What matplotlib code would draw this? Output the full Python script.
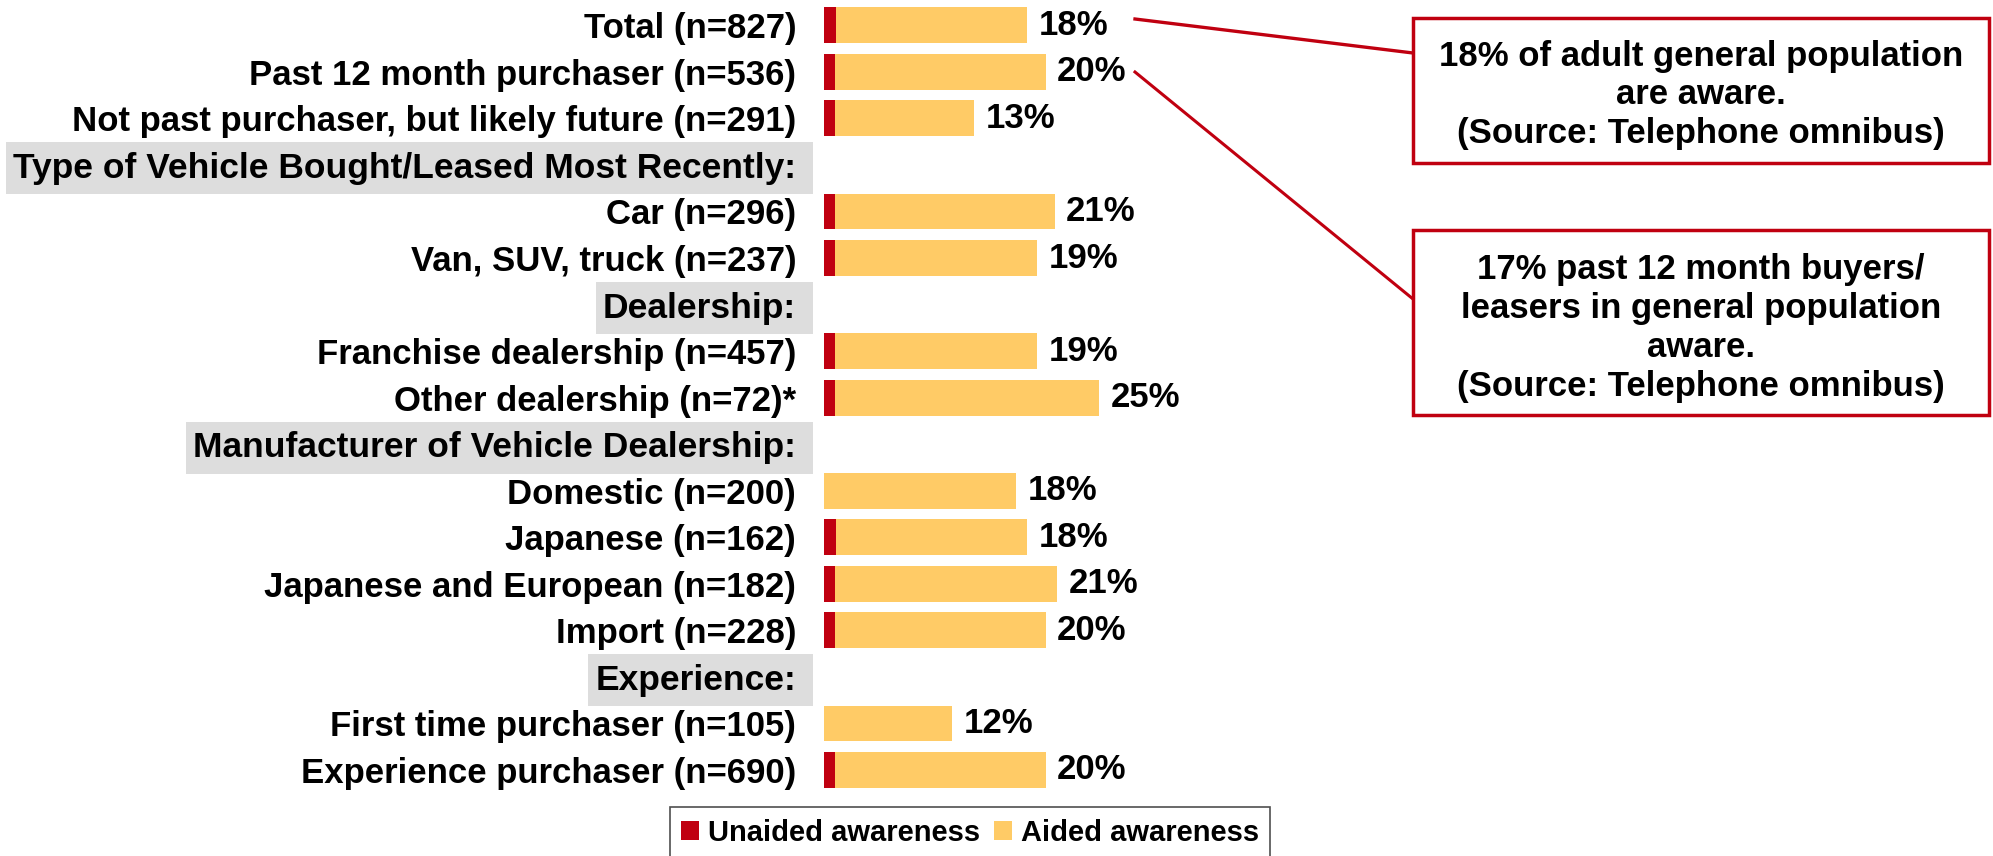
import matplotlib
matplotlib.use('Agg')
import matplotlib.pyplot as plt
from matplotlib.patches import Rectangle, Patch
from matplotlib.lines import Line2D
import numpy as np

plt.rcParams['font.family'] = ['Liberation Sans', 'DejaVu Sans']
plt.rcParams['font.weight'] = 'bold'

# rows top -> bottom; header rows have no values
categories = ['Total (n=827)', 'Past 12 month purchaser (n=536)',
              'Not past purchaser, but likely future (n=291)',
              'Type of Vehicle Bought/Leased Most Recently:',
              'Car (n=296)', 'Van, SUV, truck (n=237)',
              'Dealership:',
              'Franchise dealership (n=457)', 'Other dealership (n=72)*',
              'Manufacturer of Vehicle Dealership:',
              'Domestic (n=200)', 'Japanese (n=162)',
              'Japanese and European (n=182)', 'Import (n=228)',
              'Experience:',
              'First time purchaser (n=105)', 'Experience purchaser (n=690)']
is_header = [False, False, False, True, False, False, True, False, False,
             True, False, False, False, False, True, False, False]
unaided = [1.1, 1.0, 1.0, np.nan, 1.0, 1.0, np.nan, 1.0, 1.0, np.nan,
           0.0, 1.1, 1.0, 1.0, np.nan, 0.0, 1.0]
aided = [17.3, 19.1, 12.6, np.nan, 19.9, 18.3, np.nan, 18.3, 23.9, np.nan,
         17.4, 17.3, 20.1, 19.1, np.nan, 11.6, 19.1]
value_labels = ['18%', '20%', '13%', '', '21%', '19%', '', '19%', '25%', '',
                '18%', '18%', '21%', '20%', '', '12%', '20%']

RED = '#C00010'
GOLD = '#FFCB66'
GREY = '#DDDDDD'

W, H = 1993, 856
fig = plt.figure(figsize=(W / 100, H / 100), dpi=100)
ax = fig.add_axes([824 / W, 0.0733, 552.5 / W, 0.9243])
ax.patch.set_visible(False)

y = np.arange(len(categories))
un = np.array(unaided)
ai = np.array(aided)
ax.barh(y, un, height=0.77, color=RED)
ax.barh(y, ai, left=un, height=0.77, color=GOLD)

for i, lab in enumerate(value_labels):
    if lab:
        ax.annotate(lab, (un[i] + ai[i], i), xytext=(8, 0), textcoords='offset points',
                    va='center', ha='left', fontsize=25, fontweight='bold')

ax.set_xlim(0, 50)
ax.set_ylim(len(categories) - 0.5, -0.5)
ax.set_yticks(y)
ax.set_yticklabels(categories, fontsize=25, fontweight='bold')
ax.tick_params(axis='y', length=0, pad=20)
ax.set_xticks([])
for s in ax.spines.values():
    s.set_visible(False)


def fx(px):
    return px / W


def fy(py):
    return 1 - py / H


# grey band behind the section headers
fig.canvas.draw()
rend = fig.canvas.get_renderer()
for tl, h in zip(ax.get_yticklabels(), is_header):
    if h:
        tl.set_fontsize(25.5)
        bb = tl.get_window_extent(rend)
        x0 = bb.x0 - 7
        x1 = 813
        yc = (bb.y0 + bb.y1) / 2
        fig.patches.append(Rectangle((x0 / W, (yc - 26) / H), (x1 - x0) / W, 52 / H,
                                     transform=fig.transFigure, facecolor=GREY,
                                     edgecolor='none', zorder=-1))

# callout boxes
boxes = [((1413, 18, 1989, 163), 95,
          '18% of adult general population\nare aware.\n(Source: Telephone omnibus)'),
         ((1413, 230, 1989, 415), 328,
          '17% past 12 month buyers/\nleasers in general population\naware.\n(Source: Telephone omnibus)')]
for (x0, y0, x1, y1), ty, txt in boxes:
    fig.patches.append(Rectangle((fx(x0), fy(y1)), fx(x1) - fx(x0), fy(y0) - fy(y1),
                                 transform=fig.transFigure, facecolor='white',
                                 edgecolor=RED, linewidth=2.5))
    fig.text(fx((x0 + x1) / 2), fy(ty), txt, ha='center', va='center',
             fontsize=25, fontweight='bold', linespacing=1.22)

fig.add_artist(Line2D([fx(1135), fx(1413)], [fy(19), fy(53)], color=RED, lw=2.4,
                      transform=fig.transFigure))
fig.add_artist(Line2D([fx(1135), fx(1413)], [fy(72), fy(299)], color=RED, lw=2.2,
                      transform=fig.transFigure))

handles = [Patch(facecolor=RED, edgecolor='none', label='Unaided awareness'),
           Patch(facecolor=GOLD, edgecolor='none', label='Aided awareness')]
leg = fig.legend(handles=handles, loc='upper center', bbox_to_anchor=(fx(970), fy(807)),
                 ncol=2, frameon=True, fancybox=False, edgecolor='#222222',
                 prop={'size': 21, 'weight': 'bold'}, handlelength=0.6,
                 handleheight=0.62, handletextpad=0.3, columnspacing=0.5,
                 borderpad=0.4, borderaxespad=0)
leg.get_frame().set_linewidth(1.2)

fig.savefig('out.png', dpi=100)
